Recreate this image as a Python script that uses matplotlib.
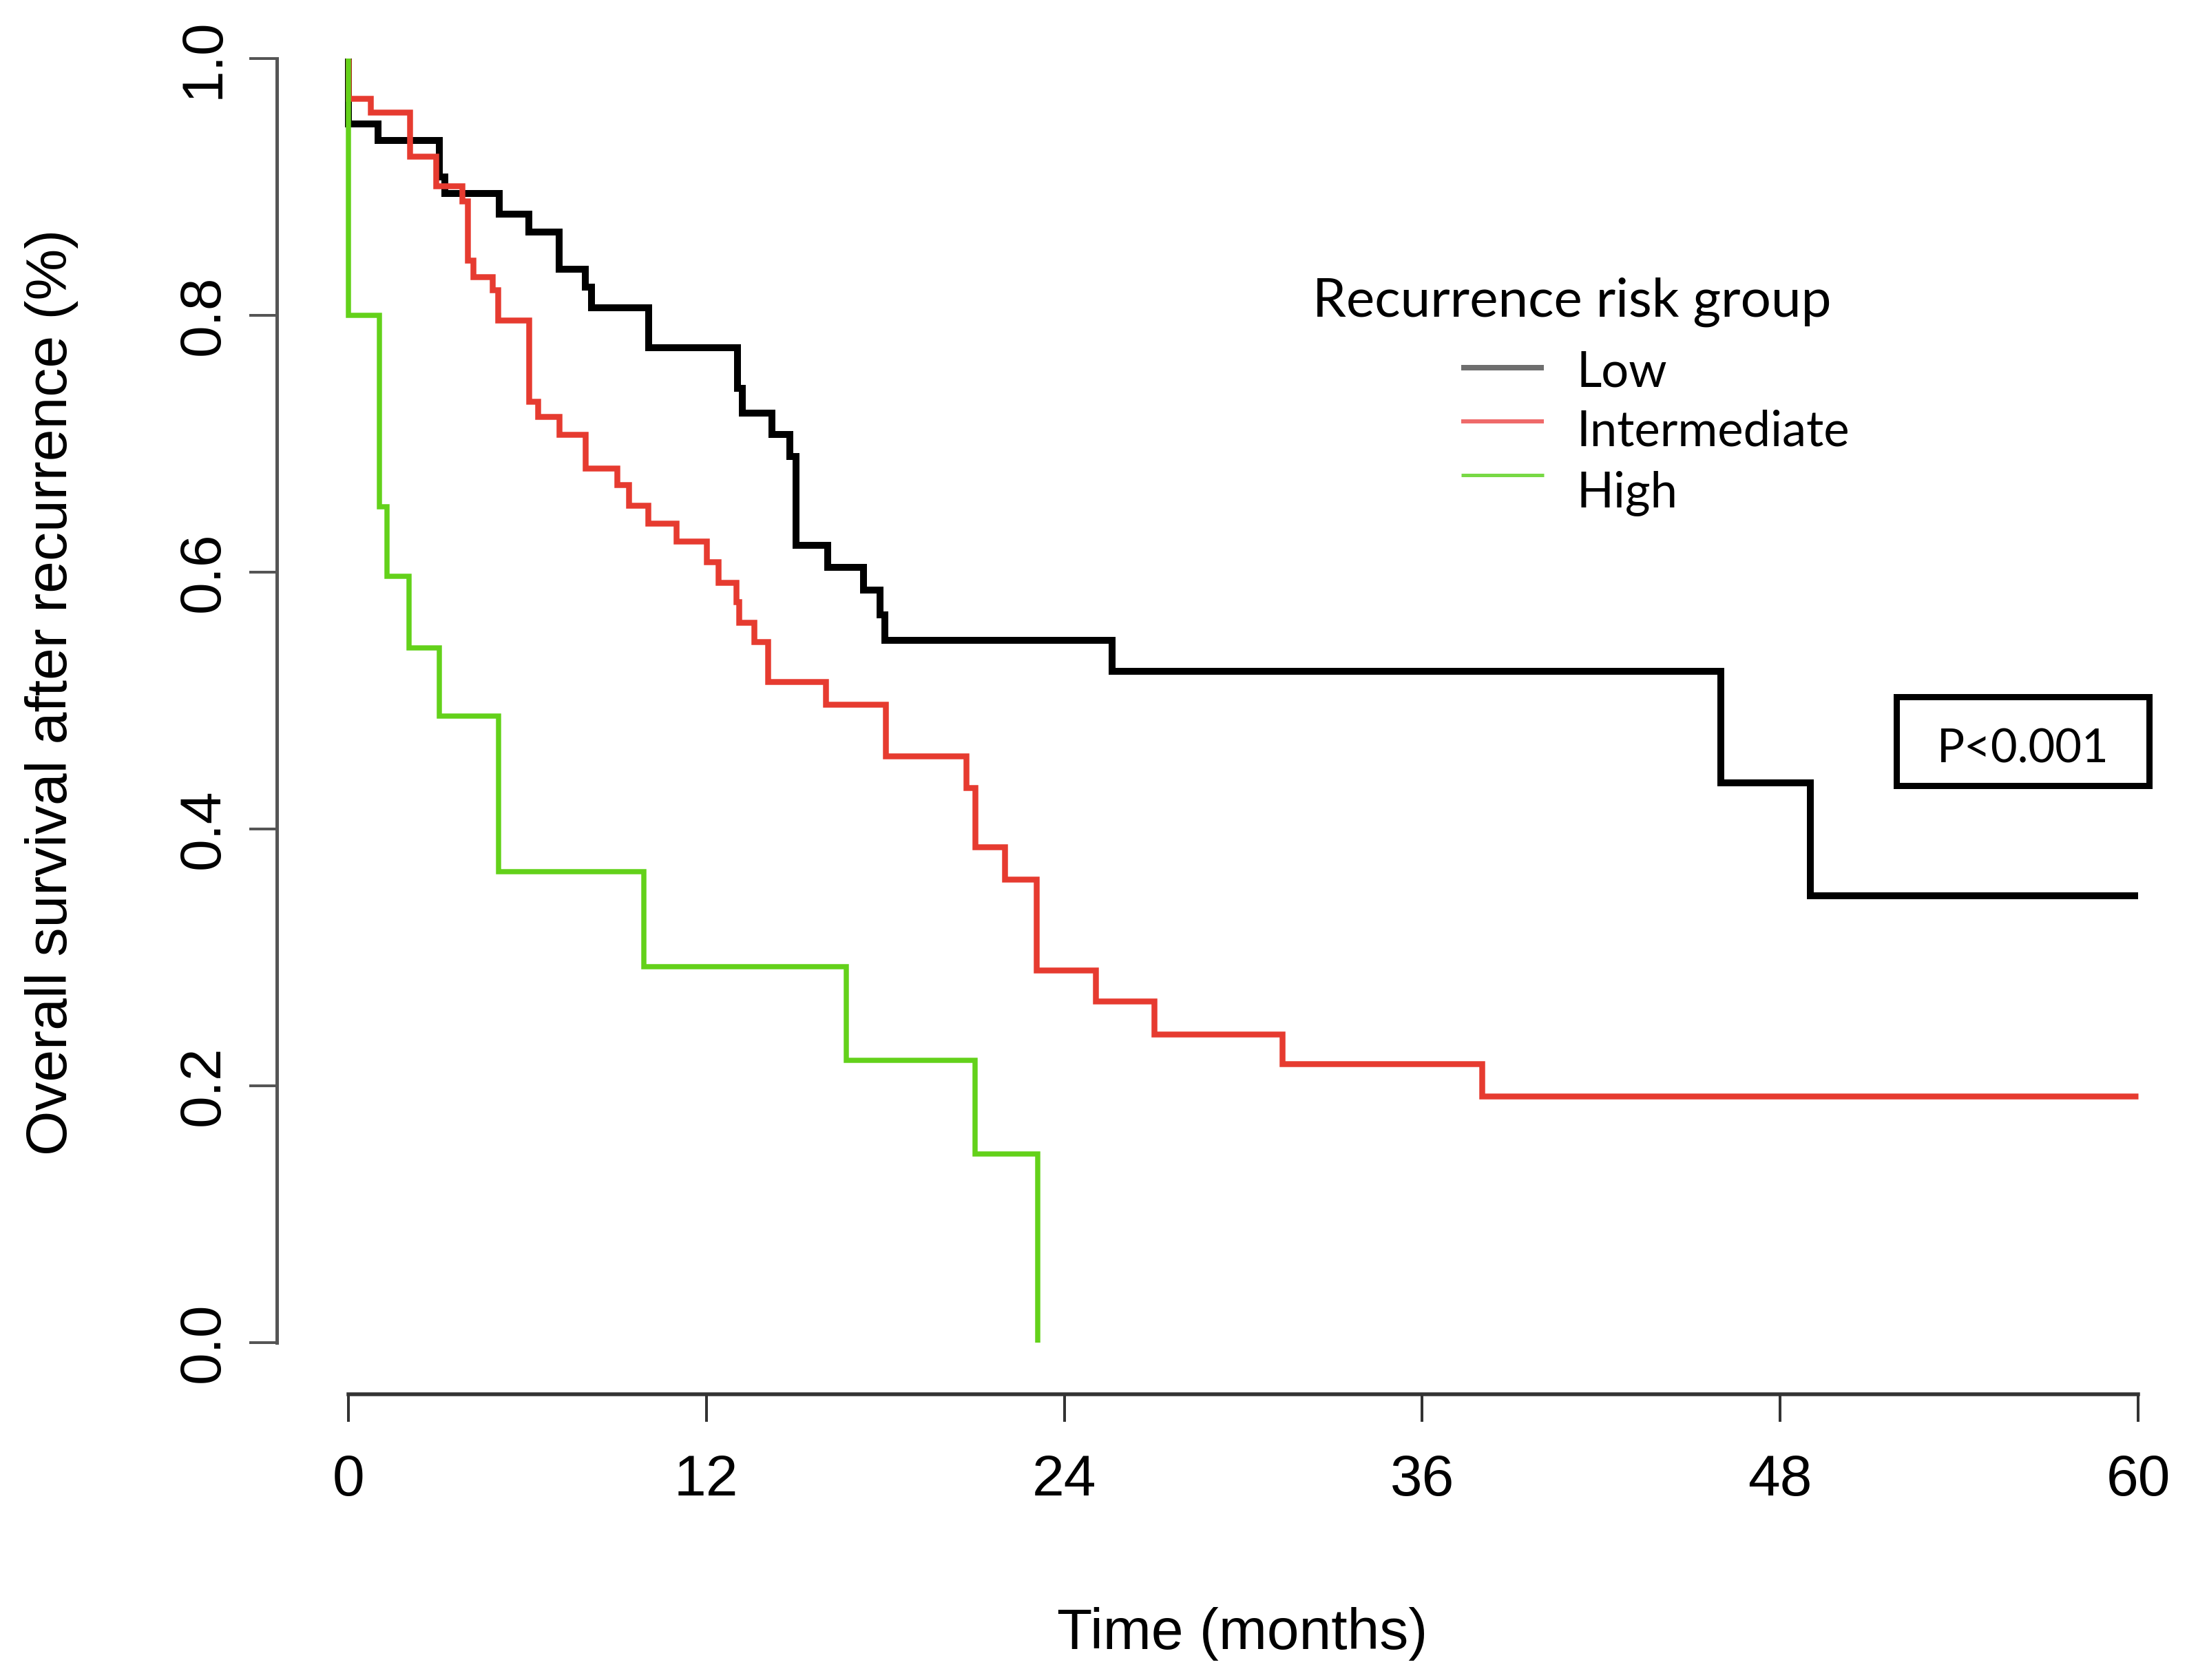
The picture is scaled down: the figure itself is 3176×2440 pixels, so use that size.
import numpy as np
import matplotlib
matplotlib.use("Agg")
import matplotlib.pyplot as plt
from matplotlib.lines import Line2D
from matplotlib.patches import Rectangle

# ---------------- data ----------------
groups = ["Low", "Intermediate", "High"]
colors = ["#000000", "#e63b30", "#63d11a"]
legend_colors = ["#6e6e6e", "#ef6a6a", "#78d945"]

low_t = [0, 0, 0.99, 3.05, 3.24, 5.06, 6.05, 7.06, 7.95, 8.15, 10.07, 13.05, 13.2,
         14.2, 14.8, 15.0, 16.06, 17.27, 17.83, 17.98, 25.6, 46.0, 49.0, 60.0]
low_s = [1.0, 0.949, 0.936, 0.908, 0.895, 0.879, 0.865, 0.836, 0.822, 0.806, 0.775,
         0.743, 0.724, 0.707, 0.690, 0.621, 0.604, 0.586, 0.567, 0.547, 0.523,
         0.436, 0.348, 0.348]

int_t = [0, 0, 0.75, 2.05, 2.93, 3.8, 4.0, 4.17, 4.82, 5.0, 6.05, 6.35, 7.06, 7.95,
         9.0, 9.4, 10.05, 11.0, 12.0, 12.4, 13.0, 13.1, 13.6, 14.05, 16.0, 18.0,
         20.7, 21.0, 22.0, 23.06, 25.05, 27.0, 31.3, 38.0, 60.0]
int_s = [1.0, 0.969, 0.958, 0.924, 0.901, 0.889, 0.843, 0.830, 0.820, 0.796, 0.733,
         0.721, 0.707, 0.681, 0.668, 0.652, 0.638, 0.624, 0.608, 0.592, 0.577,
         0.561, 0.546, 0.515, 0.497, 0.457, 0.432, 0.386, 0.361, 0.290, 0.266,
         0.240, 0.217, 0.192, 0.192]

high_t = [0, 0, 1.04, 1.30, 2.03, 3.05, 5.04, 9.9, 16.7, 21.0, 23.1]
high_s = [1.0, 0.80, 0.651, 0.597, 0.541, 0.488, 0.367, 0.293, 0.220, 0.147, 0.0]

x_ticks = [0, 12, 24, 36, 48, 60]
y_ticks = [0.0, 0.2, 0.4, 0.6, 0.8, 1.0]
y_ticklabels = ["0.0", "0.2", "0.4", "0.6", "0.8", "1.0"]
x_label = "Time (months)"
y_label = "Overall survival after recurrence (%)"
legend_title = "Recurrence risk group"
p_text = "P<0.001"

# ---------------- figure ----------------
W, H, DPI = 3176, 2440, 200
fig = plt.figure(figsize=(W / DPI, H / DPI), dpi=DPI)
fig.patch.set_facecolor("white")

def fx(px):
    return px / W

def fy(py):
    return 1 - py / H

def pt(px):
    return px / DPI * 72

AX_FONT = "Liberation Sans"
LEG_FONT = "Lato"
ax_fs = pt(84)

ax = fig.add_axes([fx(506), fy(1950), (3105 - 506) / W, (1950 - 85) / H])
ax.set_xlim(0, 60)
ax.set_ylim(0, 1)
ax.patch.set_alpha(0)

series = [(low_t, low_s), (int_t, int_s), (high_t, high_s)]
lws = [pt(10), pt(8.5), pt(7.5)]
for (t, s), c, lw in zip(series, colors, lws):
    ax.step(t, s, where="post", color=c, lw=lw, clip_on=False,
            solid_joinstyle="miter", solid_capstyle="butt")

for side in ("top", "right"):
    ax.spines[side].set_visible(False)
ax.spines["left"].set_position(("outward", pt(104)))
ax.spines["left"].set_bounds(0, 1)
ax.spines["left"].set_color("#555555")
ax.spines["left"].set_linewidth(pt(5))
ax.spines["bottom"].set_position(("outward", pt(75)))
ax.spines["bottom"].set_bounds(0, 60)
ax.spines["bottom"].set_color("#333333")
ax.spines["bottom"].set_linewidth(pt(5.5))

ax.set_xticks(x_ticks)
ax.set_xticklabels([str(v) for v in x_ticks], fontsize=ax_fs, family=AX_FONT,
                   va="baseline")
ax.set_yticks(y_ticks)
ax.set_yticklabels(y_ticklabels, fontsize=ax_fs, family=AX_FONT, rotation=90,
                   rotation_mode="anchor", ha="center", va="baseline")
ax.tick_params(axis="x", length=pt(40), width=pt(4), color="#333333", pad=pt(107))
ax.tick_params(axis="y", length=pt(40), width=pt(4), color="#555555", pad=pt(44))

fig.text(fx(1804), fy(2395), x_label, ha="center", va="baseline",
         fontsize=ax_fs, family=AX_FONT)
fig.text(fx(97), fy(1005), y_label, ha="center", va="baseline", rotation=90,
         rotation_mode="anchor", fontsize=ax_fs, family=AX_FONT)

# ---------------- legend (manual, Calibri-like) ----------------
renderer = fig.canvas.get_renderer()

def fit_text(x_px, y_px, s, width_px, **kw):
    t = fig.text(fx(x_px), fy(y_px), s, fontsize=30, family=LEG_FONT, **kw)
    w = t.get_window_extent(renderer).width
    t.set_fontsize(30 * width_px / w)
    return t

fit_text(1906, 460, legend_title, 756, ha="left", va="baseline")
entry_base = [562, 647, 737]
line_y = [534, 612, 690]
line_w = [pt(8), pt(6), pt(5)]
ref = fig.text(0, 0, "Intermediate", fontsize=30, family=LEG_FONT)
ent_fs = 30 * 397 / ref.get_window_extent(renderer).width
ref.remove()
for g, c, by, ly, lw in zip(groups, legend_colors, entry_base, line_y, line_w):
    fig.text(fx(2289), fy(by), g, ha="left", va="baseline", fontsize=ent_fs,
             family=LEG_FONT)
    fig.add_artist(Line2D([fx(2122), fx(2242)], [fy(ly), fy(ly)], color=c, lw=lw,
                          transform=fig.transFigure, solid_capstyle="butt"))

# ---------------- p-value box ----------------
bw = 9
fig.add_artist(Rectangle((fx(2749 + bw / 2), fy(1145 - bw / 2)),
                         (3125 - 2749 - bw) / W, (1145 - 1007 - bw) / H,
                         transform=fig.transFigure, fill=False, ec="black",
                         lw=pt(bw), joinstyle="miter"))
fit_text(2937.5, 1107, p_text, 250, ha="center", va="baseline")

fig.savefig("out.png", dpi=DPI, facecolor="white")
